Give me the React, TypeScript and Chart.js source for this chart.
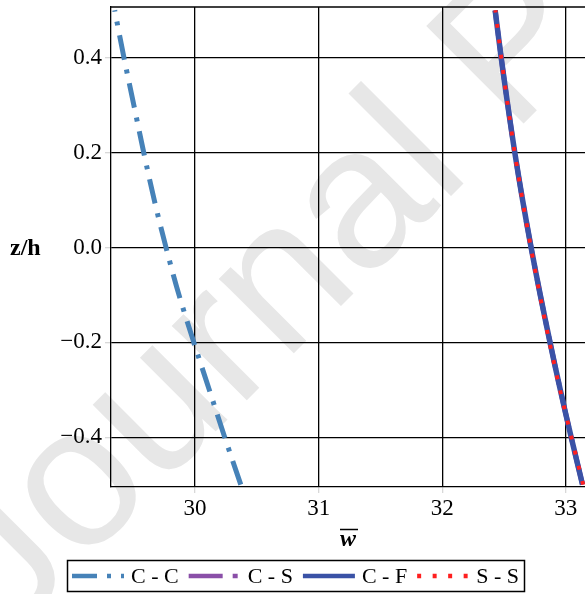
import React, { useEffect, useRef } from "react";
import { Chart, registerables } from "chart.js";

Chart.register(...registerables);

const zLevels = [-0.5, -0.4, -0.3, -0.2, -0.1, 0.0, 0.1, 0.2, 0.3, 0.4, 0.5];
const wCC = [30.37, 30.24, 30.115, 29.99, 29.87, 29.765, 29.67, 29.585, 29.505, 29.425, 29.35];
const wCS = [33.135, 33.043, 32.955, 32.872, 32.793, 32.719, 32.65, 32.587, 32.53, 32.477, 32.428];
const wCF = [33.135, 33.043, 32.955, 32.872, 32.793, 32.719, 32.65, 32.587, 32.53, 32.477, 32.428];
const wSS = [33.14, 33.045, 32.953, 32.868, 32.79, 32.717, 32.649, 32.586, 32.53, 32.478, 32.43];
const seriesLabels = ["C - C", "C - S", "C - F", "S - S"];
const xTicks = [30, 31, 32, 33];
const yTicks = [-0.4, -0.2, 0.0, 0.2, 0.4];

const SERIF = '"Liberation Serif", "Times New Roman", serif';

const pts = (ws: number[]) => ws.map((w, i) => ({ x: w, y: zLevels[i] }));

const fmtY = (v: number) => {
  const s = Math.abs(v).toFixed(1);
  return v < -1e-9 ? "\u2212" + s : s;
};

const watermark = {
  id: "watermark",
  beforeDraw(chart: any) {
    const ctx = chart.ctx;
    ctx.save();
    ctx.translate(9, 638);
    ctx.rotate(-Math.PI / 4);
    ctx.font = '200px "Liberation Sans", Arial, sans-serif';
    ctx.fillStyle = "#e7e7e7";
    ctx.textBaseline = "alphabetic";
    ctx.fillText("Journal P", 0, 0);
    ctx.restore();
  },
};

const frame = {
  id: "frame",
  beforeDatasetsDraw(chart: any) {
    const { ctx, chartArea } = chart;
    ctx.save();
    ctx.strokeStyle = "#000";
    ctx.lineWidth = 1.3;
    ctx.beginPath();
    ctx.moveTo(chartArea.left, chartArea.top);
    ctx.lineTo(chartArea.right, chartArea.top);
    ctx.stroke();
    ctx.restore();
  },
  afterDraw(chart: any) {
    const { ctx, chartArea } = chart;
    ctx.save();
    // overline of the x-axis title
    const cx = (chartArea.left + chartArea.right) / 2;
    ctx.strokeStyle = "#000";
    ctx.lineWidth = 1.5;
    ctx.beginPath();
    ctx.moveTo(cx - 8, 529.5);
    ctx.lineTo(cx + 10, 529.5);
    ctx.stroke();

    // y-axis title (horizontal)
    ctx.fillStyle = "#000";
    ctx.font = "bold 24px " + SERIF;
    ctx.textBaseline = "middle";
    ctx.textAlign = "left";
    ctx.fillText("z/h", 10, 249);

    // legend
    const boxL = 67.5, boxT = 560.5, boxW = 457, boxH = 31;
    ctx.strokeStyle = "#000";
    ctx.lineWidth = 1.5;
    ctx.setLineDash([]);
    ctx.strokeRect(boxL, boxT, boxW, boxH);
    ctx.font = "22px " + SERIF;
    const cy = 576;
    let x = 72;
    chart.data.datasets.forEach((ds: any) => {
      ctx.save();
      ctx.strokeStyle = ds.borderColor;
      ctx.lineWidth = ds.legendWidth;
      ctx.setLineDash(ds.borderDash || []);
      ctx.lineCap = "butt";
      ctx.beginPath();
      ctx.moveTo(x, cy);
      ctx.lineTo(x + 52, cy);
      ctx.stroke();
      ctx.restore();
      x += 52 + 7;
      ctx.fillStyle = "#000";
      ctx.textBaseline = "middle";
      ctx.fillText(ds.label, x, cy + 1);
      x += ctx.measureText(ds.label).width + 10;
    });
    ctx.restore();
  },
};

export default function App() {
  const ref = useRef<HTMLCanvasElement>(null);
  useEffect(() => {
    if (!ref.current) return;
    const chart = new Chart(ref.current, {
      type: "line",
      data: {
        datasets: [
          {
            label: seriesLabels[0],
            data: pts(wCC),
            borderColor: "#4682b8",
            borderWidth: 5,
            borderDash: [25, 10, 4, 10],
            legendWidth: 4.5,
            pointRadius: 0,
            tension: 0.3,
            order: 3,
          } as any,
          {
            label: seriesLabels[1],
            data: pts(wCS),
            borderColor: "#8a4fa8",
            borderWidth: 5,
            borderDash: [34, 10, 5, 10],
            legendWidth: 4.5,
            pointRadius: 0,
            tension: 0.3,
            order: 2,
          } as any,
          {
            label: seriesLabels[2],
            data: pts(wCF),
            borderColor: "#3a52a6",
            borderWidth: 5.5,
            borderDash: [],
            legendWidth: 4.5,
            pointRadius: 0,
            tension: 0.3,
            order: 1,
          } as any,
          {
            label: seriesLabels[3],
            data: pts(wSS),
            borderColor: "#ff1f1f",
            borderWidth: 4,
            borderDash: [4, 11.5],
            legendWidth: 4.5,
            pointRadius: 0,
            tension: 0.3,
            order: 0,
          } as any,
        ],
      },
      options: {
        animation: false,
        responsive: true,
        maintainAspectRatio: false,
        layout: { padding: { left: 0, right: 0, top: 7, bottom: 0 } },
        plugins: { legend: { display: false }, tooltip: { enabled: false } },
        scales: {
          x: {
            type: "linear",
            min: 29.32,
            max: 33.155,
            afterBuildTicks: (s: any) => {
              s.ticks = xTicks.map((v) => ({ value: v }));
            },
            afterFit: (s: any) => {
              s.height = 107;
              s.paddingLeft = 0;
              s.paddingRight = 0;
            },
            grid: { color: "#000", lineWidth: 1.3, tickColor: "#d8d8d8", tickLength: 6, drawTicks: true },
            border: { color: "#000", width: 1.3 },
            ticks: {
              color: "#000",
              font: { family: SERIF, size: 23 },
              padding: 2,
              maxRotation: 0,
              callback: (v: any) => String(v),
            },
            title: {
              display: true,
              text: "w",
              color: "#000",
              font: { family: SERIF, size: 24, weight: "bold", style: "italic" },
              padding: { top: 0, bottom: 40 },
            },
          },
          y: {
            type: "linear",
            min: -0.505,
            max: 0.507,
            afterBuildTicks: (s: any) => {
              s.ticks = yTicks.map((v) => ({ value: v }));
            },
            afterFit: (s: any) => {
              s.width = 111;
              s.paddingTop = 0;
              s.paddingBottom = 0;
            },
            grid: { color: "#000", lineWidth: 1.3, tickColor: "#d8d8d8", tickLength: 6, drawTicks: true },
            border: { color: "#000", width: 1.3 },
            ticks: {
              color: "#000",
              font: { family: SERIF, size: 23 },
              padding: 3,
              callback: (v: any) => fmtY(Number(v)),
            },
          },
        },
      } as any,
      plugins: [watermark, frame],
    });
    return () => chart.destroy();
  }, []);
  return (
    <div style={{ position: "absolute", left: 0, top: 0, width: 585, height: 594, background: "#fff" }}>
      <canvas ref={ref} />
    </div>
  );
}
